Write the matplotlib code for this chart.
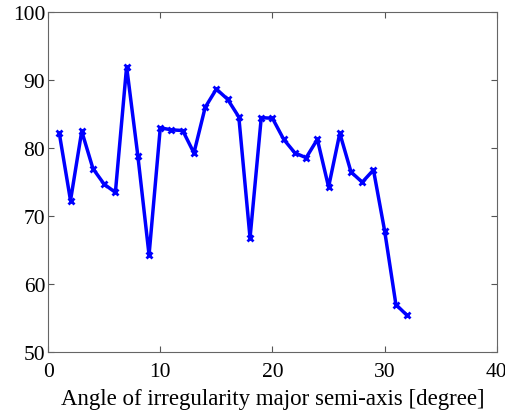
import numpy as np
import matplotlib.pyplot as plt

plt.rcParams['font.family'] = ['Liberation Serif', 'DejaVu Serif']

# data
angle = list(range(1, 33))
value = [82.2, 72.3, 82.5, 77.0, 74.7, 73.5, 92.0, 78.9, 64.3, 83.0,
         82.7, 82.6, 79.3, 86.0, 88.7, 87.2, 84.6, 66.8, 84.5, 84.4,
         81.3, 79.3, 78.6, 81.3, 74.3, 82.2, 76.5, 75.0, 76.8, 67.8,
         57.0, 55.4]
xticks = [0, 10, 20, 30, 40]
yticks = [50, 60, 70, 80, 90, 100]

fig = plt.figure(figsize=(5.06, 4.14), dpi=100)
ax = fig.add_axes([0.095, 0.147, 0.887, 0.821])

ax.plot(angle, value, color='blue', lw=2.5, marker='x', ms=5, mew=2)

ax.set_xlim(0, 40)
ax.set_ylim(50, 100)
ax.set_xticks(xticks)
ax.set_yticks(yticks)
ax.tick_params(direction='in', top=True, right=True, labelsize=15.5,
               length=4, color='#555555')
ax.tick_params(axis='x', pad=7)
ax.tick_params(axis='y', pad=2)
for s in ax.spines.values():
    s.set_color('#666666')
    s.set_linewidth(0.8)
ax.set_xlabel('Angle of irregularity major semi-axis [degree]', fontsize=16.5,
              labelpad=5)

plt.savefig('out.png', dpi=100)
